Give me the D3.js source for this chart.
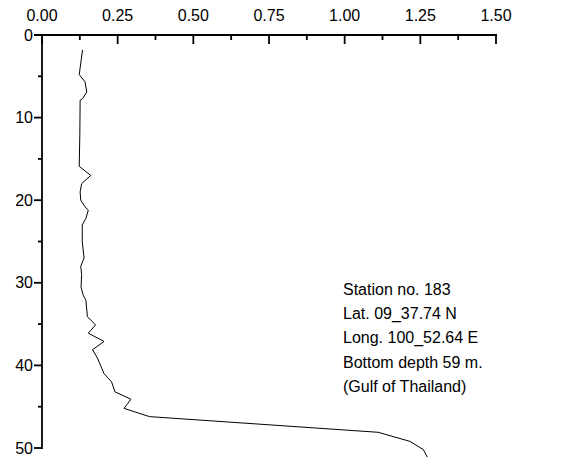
<!DOCTYPE html>
<html>
<head>
<meta charset="utf-8">
<script src="https://cdn.jsdelivr.net/npm/d3@7"></script>
<style>
  body { margin: 0; background: #fff; }
  svg { display: block; font-family: Arial, "Liberation Sans", sans-serif; }
</style>
</head>
<body>
<svg id="chart" width="577" height="462"></svg>
<script>
// Profile data: value (x) vs depth (y, m)
const values = [0.134, 0.123, 0.142, 0.148, 0.134, 0.126, 0.125, 0.123, 0.161, 0.131, 0.126, 0.128, 0.142, 0.153, 0.145, 0.133, 0.133, 0.139, 0.128, 0.131, 0.129, 0.136, 0.145, 0.150, 0.177, 0.153, 0.205, 0.167, 0.183, 0.205, 0.230, 0.241, 0.294, 0.271, 0.355, 1.111, 1.216, 1.260, 1.273];
const depths = [1.8, 4.8, 5.65, 6.9, 7.7, 7.9, 12, 15.9, 17.0, 18, 19, 20, 20.8, 21.2, 22.2, 23, 25, 27, 28, 29, 30.5, 31.5, 32.1, 34.1, 35.1, 36.1, 37.1, 38.1, 39.1, 41, 42, 43.2, 44.1, 45.2, 46.2, 48.1, 49.2, 50.2, 51.1];
const xTicks = [0, 0.25, 0.5, 0.75, 1.0, 1.25, 1.5];
const xMinorTicks = [0.125, 0.375, 0.625, 0.875, 1.125, 1.375];
const yTicks = [0, 10, 20, 30, 40, 50];
const yMinorTicks = [5, 15, 25, 35, 45];
const annotation = ["Station no. 183", "Lat. 09_37.74 N", "Long. 100_52.64 E", "Bottom depth 59 m.", "(Gulf of Thailand)"];

const svg = d3.select("#chart");
const x = d3.scaleLinear().domain([0, 1.5]).range([42, 496]);
const y = d3.scaleLinear().domain([0, 50]).range([35, 448]);

// Top x axis
const xAxis = svg.append("g").attr("transform", `translate(0,${y(0)})`);
xAxis.append("line").attr("x1", x(0) - 8).attr("x2", x(1.5) + 1)
  .attr("y1", 0).attr("y2", 0).attr("stroke", "#000").attr("stroke-width", 1.8);
xAxis.selectAll(".maj").data(xTicks).join("line")
  .attr("x1", d => x(d)).attr("x2", d => x(d)).attr("y1", 0).attr("y2", 9)
  .attr("stroke", "#000").attr("stroke-width", 1.8);
xAxis.selectAll(".min").data(xMinorTicks).join("line")
  .attr("x1", d => x(d)).attr("x2", d => x(d)).attr("y1", 0).attr("y2", 5)
  .attr("stroke", "#000").attr("stroke-width", 1.8);
xAxis.selectAll("text").data(xTicks).join("text")
  .attr("x", d => x(d)).attr("y", -14).attr("text-anchor", "middle")
  .attr("font-size", 16).text(d => d.toFixed(2));

// Left y axis
const yAxis = svg.append("g").attr("transform", `translate(${x(0)},0)`);
yAxis.append("line").attr("x1", 0).attr("x2", 0)
  .attr("y1", y(0)).attr("y2", y(50) + 1).attr("stroke", "#000").attr("stroke-width", 1.8);
yAxis.selectAll(".maj").data(yTicks).join("line")
  .attr("x1", -8).attr("x2", 0).attr("y1", d => y(d)).attr("y2", d => y(d))
  .attr("stroke", "#000").attr("stroke-width", 1.8);
yAxis.selectAll(".min").data(yMinorTicks).join("line")
  .attr("x1", -4).attr("x2", 0).attr("y1", d => y(d)).attr("y2", d => y(d))
  .attr("stroke", "#000").attr("stroke-width", 1.8);
yAxis.selectAll("text").data(yTicks).join("text")
  .attr("x", -9).attr("y", d => y(d)).attr("dy", "0.35em").attr("text-anchor", "end")
  .attr("font-size", 16).text(d => d);

// Profile line
const line = d3.line().x((d, i) => x(d)).y((d, i) => y(depths[i]));
svg.append("path").datum(values).attr("d", line)
  .attr("fill", "none").attr("stroke", "#000").attr("stroke-width", 1);

// Annotation
svg.append("g").selectAll("text").data(annotation).join("text")
  .attr("x", 343).attr("y", (d, i) => 289 + i * 24.3).attr("dy", "0.35em")
  .attr("font-size", 16).text(d => d);
</script>
</body>
</html>
